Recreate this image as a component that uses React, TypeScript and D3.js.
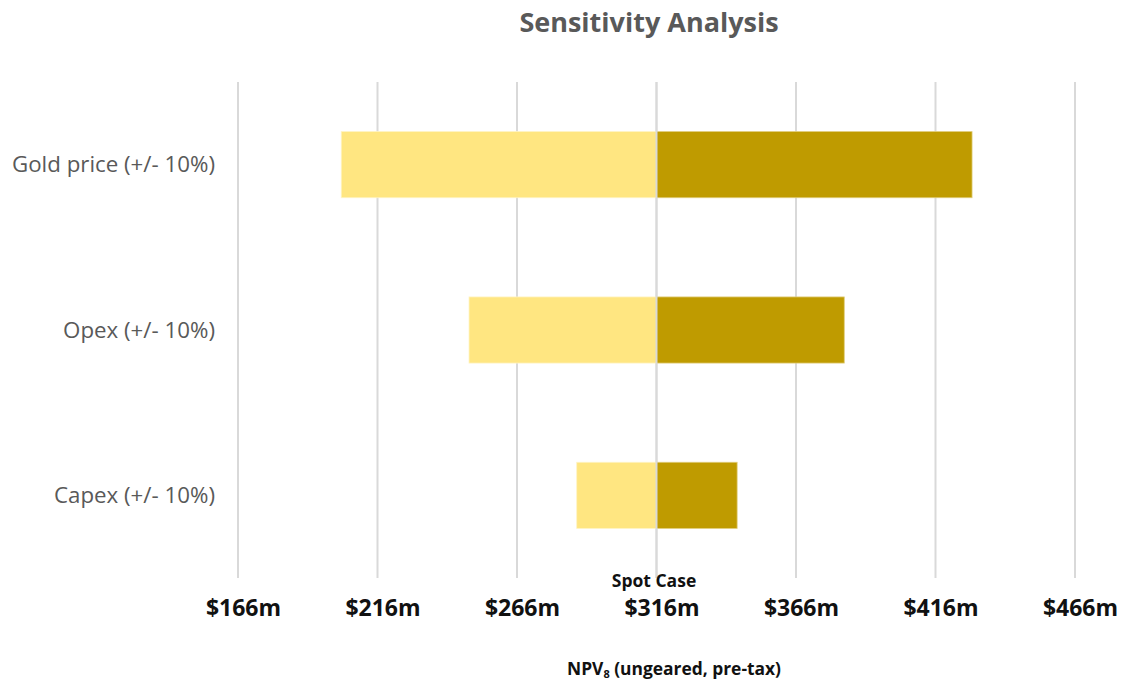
import React, { useEffect, useRef } from 'react';
import * as d3 from 'd3';

const categories = ['Gold price (+/- 10%)', 'Opex (+/- 10%)', 'Capex (+/- 10%)'];
const lowValues = [203, 248.8, 287.4];
const highValues = [429.1, 383.3, 344.9];
const baseValue = 316;
const tickValues = [166, 216, 266, 316, 366, 416, 466];

const width = 1125;
const height = 682;
const marginLeft = 238;
const marginRight = 50;
const plotTop = 82;
const plotBottom = 578;

const App: React.FC = () => {
  const svgRef = useRef<SVGSVGElement>(null);

  useEffect(() => {
    if (!svgRef.current) return;
    const svg = d3.select(svgRef.current);
    svg.selectAll('*').remove();

    const font = "'Open Sans', 'Noto Sans', sans-serif";

    const x = d3.scaleLinear()
      .domain([166, 466])
      .range([marginLeft, width - marginRight]);

    const y = d3.scaleBand()
      .domain(categories)
      .range([plotTop, plotBottom])
      .paddingInner(0.6)
      .paddingOuter(0.3);

    // Title
    svg.append('text')
      .attr('x', 649)
      .attr('y', 32)
      .attr('text-anchor', 'middle')
      .attr('font-family', font)
      .attr('font-weight', 700)
      .attr('font-size', 27)
      .attr('fill', '#595959')
      .text('Sensitivity Analysis');

    // vertical gridlines
    svg.append('g')
      .selectAll('line')
      .data(tickValues)
      .enter()
      .append('line')
      .attr('x1', d => x(d))
      .attr('x2', d => x(d))
      .attr('y1', plotTop)
      .attr('y2', plotBottom)
      .attr('stroke', '#d9d9d9')
      .attr('stroke-width', 2);

    // low side bars
    svg.append('g')
      .selectAll('rect')
      .data(categories)
      .enter()
      .append('rect')
      .attr('x', (_, i) => x(lowValues[i]))
      .attr('y', d => y(d) || 0)
      .attr('width', (_, i) => x(baseValue) - x(lowValues[i]))
      .attr('height', y.bandwidth())
      .attr('fill', '#ffe681')
      .attr('stroke', '#fff4c4')
      .attr('stroke-width', 0.8);

    // high side bars
    svg.append('g')
      .selectAll('rect')
      .data(categories)
      .enter()
      .append('rect')
      .attr('x', x(baseValue))
      .attr('y', d => y(d) || 0)
      .attr('width', (_, i) => x(highValues[i]) - x(baseValue))
      .attr('height', y.bandwidth())
      .attr('fill', '#bf9b00')
      .attr('stroke', '#e0cd7a')
      .attr('stroke-width', 0.8);

    // base line over bars
    svg.append('line')
      .attr('x1', x(baseValue))
      .attr('x2', x(baseValue))
      .attr('y1', plotTop)
      .attr('y2', plotBottom)
      .attr('stroke', '#d9d9d9')
      .attr('stroke-width', 2);

    // category labels
    svg.append('g')
      .selectAll('text')
      .data(categories)
      .enter()
      .append('text')
      .attr('x', 215)
      .attr('y', d => (y(d) || 0) + y.bandwidth() / 2)
      .attr('dy', '0.35em')
      .attr('text-anchor', 'end')
      .attr('font-family', font)
      .attr('font-size', 22.3)
      .attr('fill', '#595959')
      .text(d => d);

    // x axis labels
    const axis = svg.append('g')
      .attr('transform', `translate(0,${plotBottom})`)
      .call(
        d3.axisBottom(x)
          .tickValues(tickValues)
          .tickFormat(d => `$${d}m`)
          .tickSize(0)
          .tickPadding(22)
      );
    axis.select('.domain').remove();
    axis.selectAll('text')
      .attr('font-family', font)
      .attr('font-weight', 700)
      .attr('font-size', 23)
      .attr('fill', '#111')
      .attr('dx', 5);

    // spot case label
    svg.append('text')
      .attr('x', 654)
      .attr('y', 587)
      .attr('text-anchor', 'middle')
      .attr('font-family', font)
      .attr('font-weight', 700)
      .attr('font-size', 17.5)
      .attr('fill', '#111')
      .text('Spot Case');

    // axis title with subscript
    const title = svg.append('text')
      .attr('x', 674)
      .attr('y', 675)
      .attr('text-anchor', 'middle')
      .attr('font-family', font)
      .attr('font-weight', 700)
      .attr('font-size', 17.4)
      .attr('fill', '#111');
    title.append('tspan').text('NPV');
    title.append('tspan').attr('font-size', 11).attr('dy', 3).text('8');
    title.append('tspan').attr('dy', -3).text(' (ungeared, pre-tax)');
  }, []);

  return (
    <svg
      ref={svgRef}
      width={width}
      height={height}
      style={{ position: 'absolute', left: 0, top: 0, background: '#fff' }}
    />
  );
};

export default App;
